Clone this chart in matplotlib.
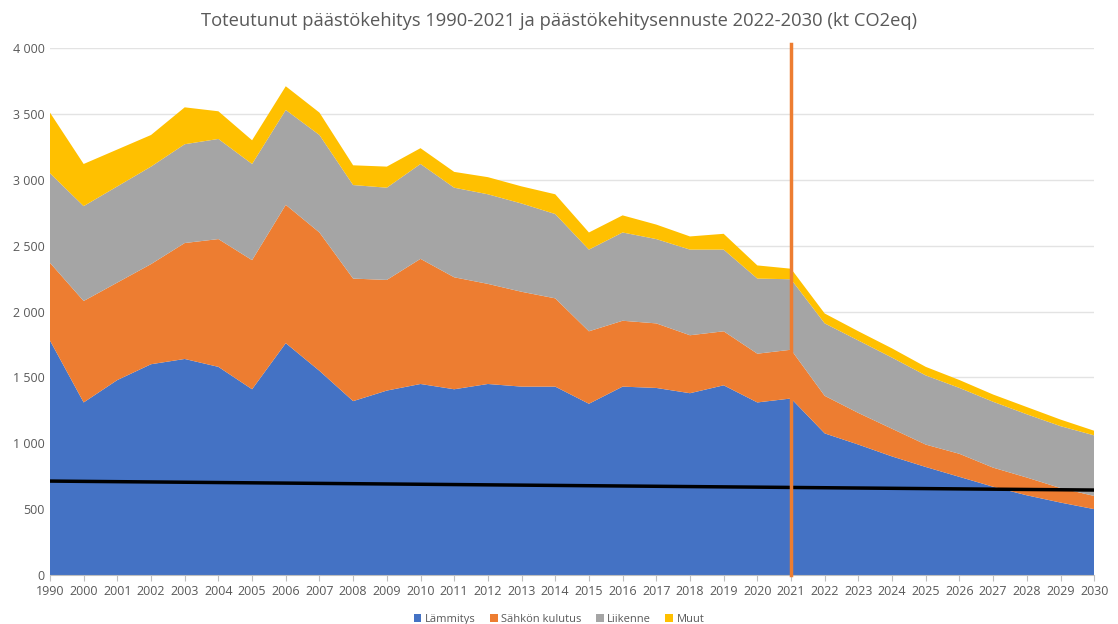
import numpy as np
import matplotlib
matplotlib.use("Agg")
import matplotlib.pyplot as plt
from matplotlib.ticker import FuncFormatter
from matplotlib.patches import Patch

# data (kt CO2eq)
years = ['1990'] + [str(y) for y in range(2000, 2031)]
lammitys = [1780, 1310, 1480, 1600, 1640, 1580, 1410, 1760, 1550, 1320,
            1400, 1450, 1410, 1450, 1430, 1430, 1300, 1430, 1420, 1380,
            1440, 1310, 1340, 1075, 990, 900, 820, 745, 670, 605, 550, 500]
sahko = [590, 770, 740, 760, 880, 970, 980, 1050, 1050, 930,
         840, 950, 850, 760, 720, 670, 550, 500, 490, 440,
         410, 370, 370, 285, 240, 210, 170, 175, 145, 135, 110, 100]
liikenne = [680, 720, 730, 740, 750, 760, 730, 720, 740, 710,
            700, 720, 680, 680, 670, 640, 620, 670, 640, 650,
            620, 570, 535, 550, 550, 540, 525, 500, 500, 480, 470, 460]
muut = [460, 320, 280, 240, 280, 210, 180, 180, 170, 150,
        160, 120, 120, 130, 130, 150, 130, 130, 110, 100,
        120, 100, 80, 75, 70, 70, 65, 60, 55, 55, 50, 35]
target_years = ['1990', '2030']
target_vals = [713, 645]
split_year = '2021'

cols = ['#4472C4', '#ED7D31', '#A5A5A5', '#FFC000']
labels = ['Lämmitys', 'Sähkön kulutus', 'Liikenne', 'Muut']

plt.rcParams['font.family'] = ['Open Sans', 'DejaVu Sans']

fig = plt.figure(figsize=(11.18, 6.24), dpi=100)
ax = fig.add_axes([0.0447, 0.0785, 0.934, 0.8445])

x = np.arange(len(years))
ax.stackplot(x, lammitys, sahko, liikenne, muut, colors=cols, linewidth=0)

tx = [years.index(t) for t in target_years]
ax.plot(tx, target_vals, color='black', lw=2.5, zorder=5)

sx = years.index(split_year)
ax.plot([sx, sx], [0, 4030], color='#ED7D31', lw=2.5, clip_on=False, zorder=6)

ax.set_xlim(0, len(years) - 1)
ax.set_ylim(0, 4000)
ax.set_yticks(np.arange(0, 4001, 500))
ax.yaxis.set_major_formatter(FuncFormatter(lambda v, _: '{:,.0f}'.format(v).replace(',', ' ')))
ax.set_xticks(x)
ax.set_xticklabels(years)
ax.grid(axis='y', color='#E3E3E3', lw=1)
ax.set_axisbelow(True)
for s in ['top', 'right', 'left']:
    ax.spines[s].set_visible(False)
ax.spines['bottom'].set_color('#BFBFBF')
ax.tick_params(axis='y', length=0, labelsize=9, labelcolor='#595959', pad=4)
ax.tick_params(axis='x', length=4, color='#BFBFBF', labelsize=9, labelcolor='#595959')

fig.suptitle('Toteutunut päästökehitys 1990-2021 ja päästökehitysennuste 2022-2030 (kt CO2eq)',
             fontsize=13.2, color='#595959', y=0.98)

handles = [Patch(facecolor=c, label=l) for c, l in zip(cols, labels)]
fig.legend(handles=handles, loc='lower center', ncol=4, frameon=False,
           fontsize=8, handlelength=0.7, handleheight=0.7, handletextpad=0.3,
           columnspacing=1.3, bbox_to_anchor=(0.5, -0.017), labelcolor='#595959')

fig.savefig('out.png', dpi=100)
